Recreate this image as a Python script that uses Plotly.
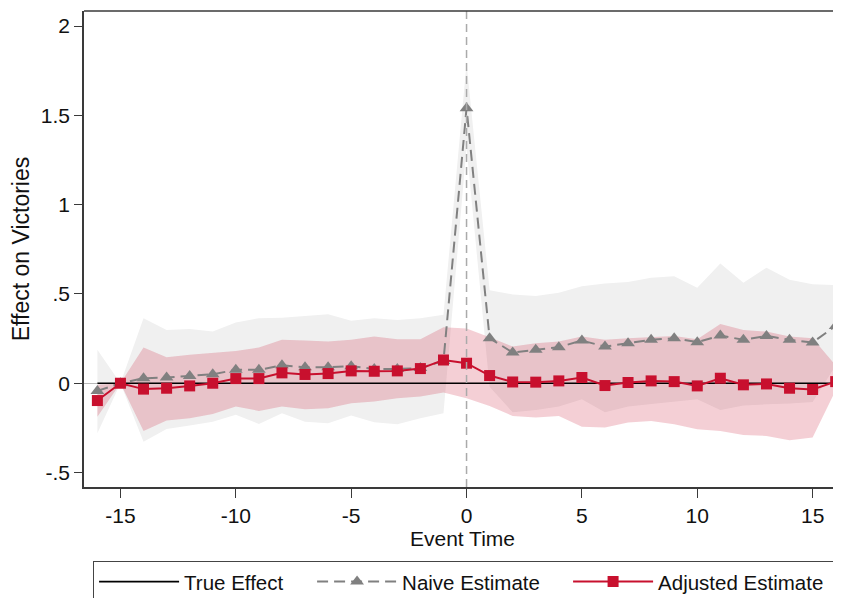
import plotly.graph_objects as go

# ---------------- data ----------------
event_time = list(range(-16, 17))

adjusted_est = [-0.097, 0.0, -0.033, -0.028, -0.015, 0.0, 0.026, 0.026, 0.058, 0.049,
                0.054, 0.069, 0.067, 0.069, 0.082, 0.130, 0.112, 0.043, 0.007, 0.006,
                0.013, 0.032, -0.013, 0.004, 0.013, 0.009, -0.015, 0.028, -0.009, -0.004,
                -0.028, -0.035, 0.009]
adjusted_upper = [-0.008, 0.0, 0.200, 0.146, 0.159, 0.168, 0.181, 0.200, 0.243, 0.239,
                  0.233, 0.243, 0.261, 0.246, 0.246, 0.313, 0.306, 0.257, 0.205, 0.224,
                  0.233, 0.261, 0.243, 0.252, 0.257, 0.265, 0.246, 0.332, 0.298, 0.289,
                  0.261, 0.252, 0.100]
adjusted_lower = [-0.187, 0.0, -0.267, -0.209, -0.196, -0.172, -0.131, -0.155, -0.131, -0.146,
                  -0.140, -0.112, -0.103, -0.084, -0.075, -0.052, -0.084, -0.127, -0.183, -0.192,
                  -0.183, -0.243, -0.248, -0.220, -0.211, -0.230, -0.258, -0.267, -0.290, -0.295,
                  -0.319, -0.304, -0.040]

naive_est = [-0.043, 0.0, 0.028, 0.032, 0.041, 0.050, 0.075, 0.075, 0.100, 0.090,
             0.090, 0.095, 0.080, 0.080, 0.085, 0.125, 1.540, 0.252, 0.172, 0.187,
             0.202, 0.239, 0.205, 0.224, 0.243, 0.252, 0.230, 0.267, 0.243, 0.265,
             0.243, 0.228, 0.321]
naive_upper = [0.187, 0.0, 0.364, 0.298, 0.304, 0.290, 0.340, 0.364, 0.367, 0.377,
               0.386, 0.350, 0.364, 0.354, 0.364, 0.383, 1.790, 0.521, 0.497, 0.489,
               0.506, 0.543, 0.558, 0.567, 0.591, 0.599, 0.534, 0.671, 0.563, 0.647,
               0.580, 0.554, 0.550]
naive_lower = [-0.280, 0.0, -0.327, -0.256, -0.237, -0.215, -0.177, -0.228, -0.168, -0.215,
               -0.224, -0.181, -0.218, -0.230, -0.196, -0.168, 1.320, -0.020, -0.163, -0.150,
               -0.131, -0.090, -0.163, -0.131, -0.116, -0.103, -0.090, -0.150, -0.125, -0.118,
               -0.114, -0.105, 0.100]

true_effect = [0.0] * len(event_time)

y_tickvals = [-0.5, 0, 0.5, 1, 1.5, 2]
y_ticktext = ["-.5", "0", ".5", "1", "1.5", "2"]
x_tickvals = [-15, -10, -5, 0, 5, 10, 15]
x_ticktext = ["-15", "-10", "-5", "0", "5", "10", "15"]

# ---------------- style ----------------
RED = "rgb(200,16,46)"
GRAY = "rgb(128,128,128)"
FONT = "Liberation Sans, Arial, Helvetica, sans-serif"
AXIS = "#3a3a3a"

fig = go.Figure()

# naive CI band
fig.add_trace(go.Scatter(x=event_time, y=naive_lower, mode="lines", line=dict(width=0),
                         showlegend=False, hoverinfo="skip"))
fig.add_trace(go.Scatter(x=event_time, y=naive_upper, mode="lines", line=dict(width=0),
                         fill="tonexty", fillcolor="rgb(240,240,240)",
                         showlegend=False, hoverinfo="skip"))
# adjusted CI band
fig.add_trace(go.Scatter(x=event_time, y=adjusted_lower, mode="lines", line=dict(width=0),
                         showlegend=False, hoverinfo="skip"))
fig.add_trace(go.Scatter(x=event_time, y=adjusted_upper, mode="lines", line=dict(width=0),
                         fill="tonexty", fillcolor="rgba(200,16,46,0.2)",
                         showlegend=False, hoverinfo="skip"))

fig.add_vline(x=0, line=dict(color="rgb(170,170,170)", width=1.5, dash="8px,5px"))

fig.add_trace(go.Scatter(x=event_time, y=true_effect, mode="lines", name="True Effect",
                         line=dict(color="black", width=1.6), legendwidth=123))
fig.add_trace(go.Scatter(x=event_time, y=naive_est, mode="lines+markers", name="Naive Estimate",
                         line=dict(color=GRAY, width=2, dash="11px,6px"),
                         marker=dict(symbol="triangle-up", size=12, color=GRAY),
                         legendwidth=161))
fig.add_trace(go.Scatter(x=event_time, y=adjusted_est, mode="lines+markers", name="Adjusted Estimate",
                         line=dict(color=RED, width=2),
                         marker=dict(symbol="square", size=11, color=RED),
                         legendwidth=180))

# top frame line
fig.add_shape(type="line", xref="paper", yref="paper", x0=0, x1=1, y0=1, y1=1,
              line=dict(color=AXIS, width=1.5))

# the page body adds an 8px offset, so the figure is 8px smaller than the window
fig.update_layout(
    width=833, height=590,
    margin=dict(l=76, r=0, t=3, b=111, autoexpand=False),
    paper_bgcolor="white", plot_bgcolor="white",
    font=dict(family=FONT, size=21, color="#111"),
    xaxis=dict(range=[-16.58, 16.23], tickvals=x_tickvals, ticktext=x_ticktext,
               showgrid=False, zeroline=False, showline=True, linecolor=AXIS, linewidth=1.5,
               ticks="outside", ticklen=9, tickwidth=1.2, tickcolor=AXIS, automargin=False,
               tickfont=dict(size=21),
               title=dict(text="Event Time", standoff=2, font=dict(size=21))),
    yaxis=dict(range=[-0.581, 2.084], tickvals=y_tickvals, ticktext=y_ticktext,
               showgrid=False, zeroline=True, zerolinecolor="rgb(185,185,185)", zerolinewidth=1,
               showline=True, linecolor=AXIS, linewidth=1.5, automargin=False,
               ticks="outside", ticklen=8, tickwidth=1.2, tickcolor=AXIS,
               tickfont=dict(size=21),
               title=dict(text="Effect on Victories", standoff=6, font=dict(size=23))),
    legend=dict(orientation="h", x=0.012, xanchor="left", y=-0.155, yanchor="top",
                traceorder="normal",
                bordercolor="#444", borderwidth=1, bgcolor="white",
                font=dict(family=FONT, size=20.5), itemwidth=80),
)

fig.write_html("out.html")
